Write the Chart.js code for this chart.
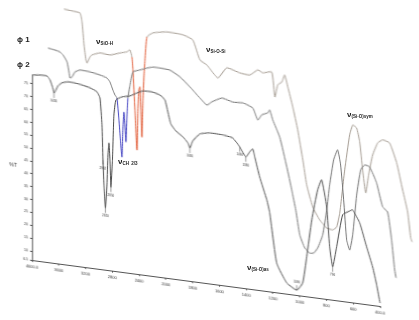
<!DOCTYPE html>
<html>
<head>
<meta charset="utf-8">
<script src="https://cdn.jsdelivr.net/npm/chart.js@4.4.1/dist/chart.umd.min.js"></script>
<style>
  html, body { margin: 0; padding: 0; background: #fff; }
  #wrap { position: relative; width: 419px; height: 320px; overflow: hidden; font-family: "Liberation Sans", Arial, sans-serif; }
  #ir { position: absolute; left: 0; top: 0; transform: skewY(7.53deg); transform-origin: 32px 260px; }
  .lbl { position: absolute; color: #222; font-weight: bold; white-space: nowrap; line-height: 1; font-size: 8px; }
  .lbl sub { font-size: 4.5px; vertical-align: -1px; }
</style>
</head>
<body>
<div id="wrap">
  <canvas id="ir" width="419" height="320"></canvas>
  <div class="lbl" style="left:17px;top:36px">ϕ 1</div>
  <div class="lbl" style="left:17px;top:61px">ϕ 2</div>
  <div class="lbl" style="left:96px;top:38px">ν<sub>SiO-H</sub></div>
  <div class="lbl" style="left:206px;top:46px">ν<sub>Si-O-Si</sub></div>
  <div class="lbl" style="left:118px;top:158px">ν<sub>CH</sub> <sub>2/3</sub></div>
  <div class="lbl" style="left:347px;top:111px">ν<sub>(Si-O)sym</sub></div>
  <div class="lbl" style="left:247px;top:264px">ν<sub>(Si-O)as</sub></div>
</div>
<script>
// tick labels
const xTicks = [4000, 3600, 3200, 2800, 2400, 2000, 1800, 1600, 1400, 1200, 1000, 800, 600, 400];
const yTicks = [6.5, 10, 15, 20, 25, 30, 35, 40, 45, 50, 55, 60, 65, 70, 75];

// phi 2 (bottom trace, on the axes)
const phi2Wave = [4000, 3881, 3776, 3731, 3686, 3672, 3642, 3612, 3552, 3463, 3358, 3254, 3134, 3030, 2985, 2955, 2940, 2925, 2903, 2880, 2865, 2850, 2835, 2821, 2798, 2776, 2746, 2657, 2537, 2433, 2343, 2209, 2090, 2015, 1985, 1963, 1925, 1873, 1836, 1821, 1799, 1746, 1672, 1575, 1500, 1448, 1403, 1373, 1351, 1336, 1299, 1246, 1224, 1172, 1097, 1022, 978, 948, 910, 866, 836, 799, 776, 754, 724, 679, 627, 605, 552, 500, 455, 425, 400];
const phi2T = [78.5, 78.9, 78.9, 77.5, 74.2, 72.6, 73.9, 75.6, 77.0, 77.7, 77.6, 77.2, 76.5, 75.3, 73.1, 62.7, 49.1, 39.4, 30.5, 39.6, 51.3, 56.0, 49.4, 38.9, 49.5, 67.2, 73.1, 74.6, 75.4, 76.9, 78.0, 78.1, 77.3, 75.7, 71.1, 66.6, 64.1, 62.2, 60.1, 58.2, 61.1, 64.2, 65.1, 65.0, 64.3, 61.2, 57.6, 59.8, 61.1, 58.1, 50.5, 42.0, 37.1, 17.9, 10.7, 8.4, 11.5, 21.8, 36.5, 48.5, 52.6, 42.3, 26.9, 19.3, 27.3, 40.1, 41.9, 42.5, 37.8, 28.8, 21.3, 14.5, 7.7];

// phi 1 (middle trace)
const phi1Wave = [4000, 3896, 3821, 3776, 3716, 3687, 3672, 3642, 3597, 3522, 3373, 3224, 3119, 3075, 3030, 3000, 2970, 2940, 2918, 2896, 2881, 2866, 2851, 2836, 2821, 2806, 2776, 2731, 2627, 2522, 2433, 2328, 2179, 2030, 1940, 1866, 1813, 1776, 1701, 1619, 1545, 1470, 1433, 1403, 1358, 1343, 1321, 1269, 1216, 1179, 1149, 1119, 1082, 1045, 1015, 985, 948, 918, 896, 866, 836, 814, 791, 769, 746, 724, 694, 664, 634, 597, 545, 500, 463, 433, 410, 400];
const phi1T = [89.8, 89.4, 88.9, 87.9, 85.4, 81.6, 79.3, 79.8, 81.9, 82.9, 82.7, 82.0, 81.2, 79.8, 76.8, 75.0, 73.9, 65.5, 57.8, 51.2, 62.5, 68.8, 63.8, 57.3, 66.7, 74.5, 79.5, 84.9, 86.0, 87.1, 87.8, 87.8, 87.5, 85.4, 82.0, 78.2, 75.8, 77.3, 79.3, 78.3, 78.5, 77.0, 72.6, 74.8, 75.9, 77.1, 73.4, 67.1, 55.8, 47.1, 39.5, 30.0, 25.2, 23.5, 23.7, 25.9, 31.2, 41.1, 51.0, 61.0, 65.1, 59.4, 45.9, 30.5, 26.7, 32.7, 48.5, 58.5, 60.6, 60.1, 54.2, 45.2, 43.5, 32.8, 21.3, 18.3];

// top trace
const topWave = [4000, 3881, 3761, 3731, 3701, 3672, 3657, 3612, 3582, 3463, 3313, 3164, 3060, 3015, 2985, 2970, 2940, 2910, 2896, 2881, 2866, 2851, 2836, 2821, 2806, 2791, 2761, 2672, 2463, 2224, 2075, 1985, 1933, 1851, 1784, 1687, 1612, 1552, 1515, 1448, 1425, 1403, 1373, 1351, 1328, 1291, 1254, 1216, 1187, 1142, 1090, 1037, 993, 963, 940, 903, 866, 843, 814, 791, 769, 746, 724, 694, 657, 619, 567, 515, 470, 433, 410, 400];
const topT = [105.8, 105.5, 105.1, 101.7, 92.9, 87.1, 86.0, 88.5, 89.4, 90.6, 90.3, 91.6, 92.4, 93.3, 90.6, 85.7, 70.2, 54.7, 70.3, 78.2, 79.4, 70.5, 60.0, 74.5, 83.5, 90.1, 99.2, 101.1, 102.2, 101.9, 100.4, 93.0, 91.4, 86.9, 91.3, 90.0, 89.7, 92.1, 91.2, 92.0, 82.4, 87.3, 88.6, 91.5, 87.0, 79.5, 70.8, 59.4, 49.9, 41.6, 36.9, 34.1, 33.7, 35.0, 40.6, 57.6, 71.5, 75.5, 74.6, 69.3, 58.6, 49.8, 57.0, 64.9, 69.8, 71.3, 70.4, 63.1, 52.8, 44.6, 34.6, 33.1];

// peak labels on phi 2
const peakWave = [3672, 2940, 2903, 2821, 1821, 1448, 1403, 1022, 754];
const peakText = ['3430', '2962', '2920', '2850', '1630', '1460', '1380', '1090', '796'];

// x axis like the spectrometer: 400/div above 2000, 200/div below
class WaveScale extends Chart.LinearScale {
    static id = 'wave';
    static defaults = {};
    getPixelForValue(value) {
        const pos = value >= 2000 ? (4000 - value) / 400 : 5 + (2000 - value) / 200;
        return this.left + (this.options.shift || 0) + pos / 13 * (this.right - this.left);
    }
    getValueForPixel(pixel) {
        const pos = (pixel - this.left - (this.options.shift || 0)) / (this.right - this.left) * 13;
        return pos <= 5 ? 4000 - pos * 400 : 2000 - (pos - 5) * 200;
    }
}
Chart.register(WaveScale);

const toPoints = (wave, t) => wave.map((w, i) => ({ x: w, y: t[i] }));
const inBand = (lo, hi, color) => ctx =>
    (ctx.p0.parsed.x <= hi && ctx.p1.parsed.x >= lo) ? color : undefined;

// small peak labels + %T title
const peakLabels = {
    id: 'peakLabels',
    afterDatasetsDraw(chart) {
        const ctx = chart.ctx;
        const xs = chart.scales.x, ys = chart.scales.y;
        ctx.save();
        ctx.fillStyle = '#333';
        ctx.strokeStyle = '#555';
        ctx.lineWidth = 0.6;
        ctx.font = '3px "Liberation Sans"';
        ctx.textAlign = 'center';
        peakWave.forEach((w, i) => {
            const idx = phi2Wave.indexOf(w);
            const px = xs.getPixelForValue(w);
            const py = ys.getPixelForValue(phi2T[idx]);
            const up = peakText[i] === '1090';
            const dy = up ? -7 : 7;
            ctx.beginPath();
            ctx.moveTo(px, py);
            ctx.lineTo(px, py + dy * 0.7);
            ctx.stroke();
            ctx.fillText(peakText[i], px, py + dy + (up ? 0 : 2));
        });
        ctx.font = '5px "Liberation Sans"';
        ctx.fillText('%T', 13, ys.getPixelForValue(42));
        ctx.restore();
    }
};

new Chart(document.getElementById('ir'), {
    type: 'line',
    data: {
        datasets: [
            {
                label: 'ϕ 2',
                data: toPoints(phi2Wave, phi2T),
                borderColor: '#4a4a4a',
                xAxisID: 'x'
            },
            {
                label: 'ϕ 1',
                data: toPoints(phi1Wave, phi1T),
                borderColor: '#727272',
                xAxisID: 'x1',
                segment: { borderColor: inBand(2806, 2970, '#3c3cc0') }
            },
            {
                label: 'top',
                data: toPoints(topWave, topT),
                borderColor: '#a39a90',
                xAxisID: 'x2',
                segment: { borderColor: inBand(2761, 2985, '#e0552e') }
            }
        ]
    },
    options: {
        responsive: false,
        animation: false,
        layout: { padding: { top: 75, right: 39, left: 0, bottom: 0 } },
        elements: {
            point: { radius: 0 },
            line: { borderWidth: 1, tension: 0.15 }
        },
        datasets: { line: { clip: false } },
        scales: {
            x: {
                type: 'wave', min: 400, max: 4000,
                afterBuildTicks: s => { s.ticks = xTicks.map(v => ({ value: v })); },
                afterFit: s => { s.height = 60; },
                ticks: {
                    autoSkip: false, maxRotation: 0, padding: 2,
                    font: { size: 4, family: 'Liberation Sans' }, color: '#333',
                    callback: v => (v === 4000 || v === 400) ? v.toFixed(1) : String(v)
                },
                grid: { drawOnChartArea: false, tickLength: 2, color: '#555' },
                border: { color: '#555', width: 1 }
            },
            x1: { type: 'wave', min: 400, max: 4000, shift: 16, display: false },
            x2: { type: 'wave', min: 400, max: 4000, shift: 32, display: false },
            y: {
                min: 6.5, max: 78.5,
                afterBuildTicks: s => { s.ticks = yTicks.map(v => ({ value: v })); },
                afterFit: s => { s.width = 32; },
                ticks: {
                    padding: 2,
                    font: { size: 3.5, family: 'Liberation Sans' }, color: '#333',
                    callback: v => v === 6.5 ? '6.5' : String(v)
                },
                grid: { drawOnChartArea: false, tickLength: 2, color: '#555' },
                border: { color: '#555', width: 1 }
            }
        },
        plugins: {
            legend: { display: false },
            tooltip: { enabled: false }
        }
    },
    plugins: [peakLabels]
});
</script>
</body>
</html>
